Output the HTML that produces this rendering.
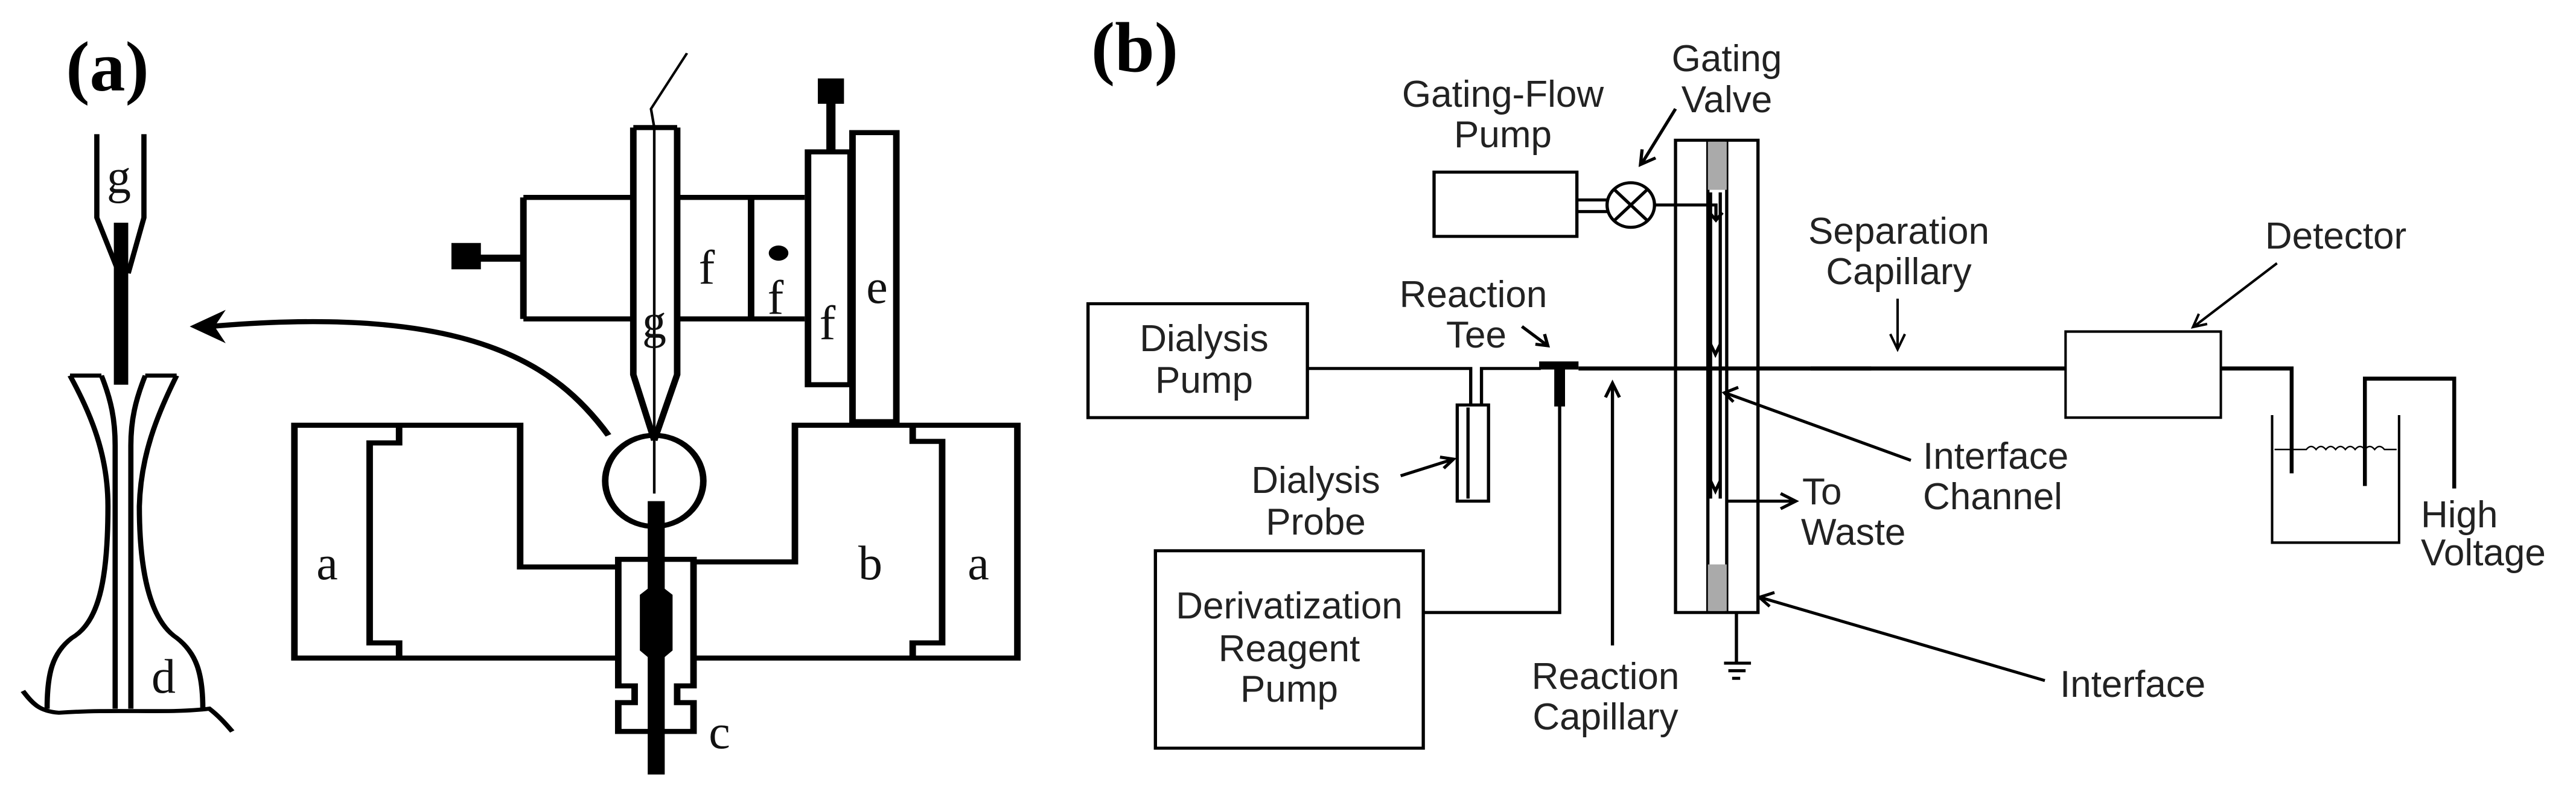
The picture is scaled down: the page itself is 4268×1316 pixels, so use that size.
<!DOCTYPE html>
<html><head><meta charset="utf-8"><style>
html,body{margin:0;padding:0;background:#fff;}
svg{display:block;}
.s{fill:none;stroke:#000;vector-effect:non-scaling-stroke;stroke-linejoin:miter;}
.ser{font-family:"Liberation Serif",serif;font-size:80px;fill:#111;text-anchor:middle;}
.sans{font-family:"Liberation Sans",sans-serif;font-size:62px;fill:#222;}
</style></head><body>
<svg width="4268" height="1316" viewBox="0 0 4268 1316" xmlns="http://www.w3.org/2000/svg">
<rect width="4268" height="1316" fill="#fff"/>

<!-- PANEL A -->
<g transform="scale(1.084,0.839)">
 <g class="s" style="stroke-width:8">
  <path d="M148,265 V430 L182,540 M220,265 V430 L196,540"/>
  <path d="M107,742 H155 M222,742 H270"/>
  <path d="M107,742 C140,820 165,900 165,1000 C165,1150 150,1230 110,1260 C80,1290 72,1330 72,1400"/>
  <path d="M155,742 C170,790 176,830 176,880 V1400"/>
  <path d="M270,742 C240,820 215,900 213,1000 C213,1150 235,1230 270,1260 C300,1290 310,1330 310,1400"/>
  <path d="M222,742 C207,790 200,830 200,880 V1400"/>
  <path d="M35,1365 C50,1390 60,1405 90,1408 C180,1400 260,1410 320,1400 C335,1415 345,1430 355,1445"/>
 </g>
 <rect x="174" y="440" width="22" height="320" fill="#000"/>

 <g class="s" style="stroke-width:10">
  <path d="M945,1120 H795 V840 H450 V1300 H945"/>
  <path d="M1060,1110 H1215 V840 H1555 V1300 H1060"/>
  <path d="M610,845 V875 H565 V1270 H610 V1298"/>
  <path d="M1395,845 V872 H1440 V1270 H1395 V1298"/>
  <path d="M945,1105 H1060 V1355 H1035 V1388 H1060 V1445 H945 V1388 H970 V1355 H945 Z"/>
  <ellipse cx="1000" cy="950" rx="75" ry="90"/>
  <path d="M968,252 H1035 M968,252 V740 L1000,870 M1035,252 V740 L1000,870"/>
  <path d="M800,390 H968 M1035,390 H1230 M800,630 H968 M1035,630 H1230 M800,390 V630 M1148,390 V630"/>
  <rect x="1235" y="300" width="65" height="460"/>
  <rect x="1303" y="262" width="67" height="573"/>
  <path d="M930,860 C850,720 720,600 320,645"/>
 </g>
 <g class="s" style="stroke-width:4">
  <path d="M1000,252 V975 M1000,252 L995,215 L1050,105"/>
 </g>
 <path d="M290,645 L345,612 L328,645 L345,678 Z" fill="#000"/>
 <rect x="990" y="990" width="26" height="540" fill="#000"/>
 <path d="M1003,1150 L1028,1175 V1285 L1003,1312 L978,1285 V1175 Z" fill="#000"/>
 <rect x="1303" y="828" width="67" height="10" fill="#000"/>
 <circle cx="1190" cy="500" r="15" fill="#000"/>
 <rect x="730" y="503" width="70" height="14" fill="#000"/>
 <rect x="690" y="480" width="45" height="52" fill="#000"/>
 <rect x="1263" y="200" width="14" height="100" fill="#000"/>
 <rect x="1250" y="155" width="40" height="50" fill="#000"/>
</g>
<text x="178" y="150" style="font-family:'Liberation Serif',serif;font-weight:bold;font-size:118px;text-anchor:middle;fill:#000">(a)</text>
<g class="ser">
 <text x="197" y="320">g</text>
 <text x="542" y="960">a</text>
 <text x="1442" y="960">b</text>
 <text x="1621" y="960">a</text>
 <text x="1192" y="1240">c</text>
 <text x="271" y="1148">d</text>
 <text x="1171" y="470">f</text>
 <text x="1285" y="520">f</text>
 <text x="1371" y="562">f</text>
 <text x="1453" y="502">e</text>
 <text x="1084" y="560">g</text>
</g>

<!-- PANEL B (left part) -->
<g transform="translate(1700,0) scale(0.893,0.839)">
 <g class="s" style="stroke-width:6">
  <rect x="757" y="340" width="265" height="127"/>
  <path d="M1022,395 H1080 M1022,418 H1080"/>
  <circle cx="1122" cy="405" r="44"/>
  <path d="M1091,374 L1153,436 M1153,374 L1091,436"/>
  <path d="M1168,405 H1280 V432 M1268,420 L1280,435 L1292,420"/>
  <path d="M1205,215 L1143,322 M1143,295 L1140,325 L1168,312"/>
  <rect x="1205" y="277" width="153" height="933"/>
  <path d="M1265,277 V1210 M1300,277 V1210"/>
  <path d="M1270,380 V985 M1288,380 V985"/>
  <path d="M1270,680 L1279,700 L1288,680 M1270,950 L1279,970 L1288,950"/>
  <path d="M1318,1210 V1310 M1295,1310 H1345 M1303,1325 H1335 M1310,1340 H1325"/>
  <rect x="115" y="600" width="407" height="225"/>
  <rect x="240" y="1088" width="497" height="390"/>
  <path d="M522,728 H825 V800"/>
  <rect x="800" y="800" width="58" height="190"/>
  <path d="M820,805 V985 M845,800 V728 H955"/>
  <path d="M990,800 V1210 H737"/>
  <path d="M920,645 L968,683 M945,680 L968,683 L962,660"/>
  <path d="M695,940 L793,907 M768,903 L793,907 L775,925"/>
  <path d="M1088,1275 V760 M1075,785 L1088,757 L1101,785"/>
  <path d="M1300,990 H1425 M1400,975 L1428,990 L1400,1005"/>
 </g>
 <rect x="1265" y="280" width="35" height="95" fill="#aaa"/>
 <rect x="1265" y="1115" width="35" height="92" fill="#aaa"/>
 <g class="s" style="stroke-width:8">
  <path d="M1025,728 H1568"/>
 </g>
 <rect x="952" y="714" width="73" height="16" fill="#000"/>
 <rect x="980" y="728" width="20" height="75" fill="#000"/>
</g>

<!-- leader lines in original coords -->
<g class="s" style="stroke-width:5">
 <path d="M3166,763 L2858,651 M2880,642 L2857,651 L2872,666"/>
 <path d="M3388,1128 L2916,990 M2940,982 L2915,990 L2932,1005"/>
</g>

<!-- PANEL B (right part) -->
<g transform="translate(3000,0) scale(0.809,0.839)">
 <g class="s" style="stroke-width:8">
  <path d="M0,728 H522"/>
  <path d="M840,728 H985 V935"/>
  <path d="M1135,960 V748 H1318 V965"/>
 </g>
 <g class="s" style="stroke-width:5">
  <rect x="522" y="655" width="318" height="170"/>
  <path d="M178,590 V688 M163,660 L178,690 L193,660"/>
  <path d="M955,520 L785,645 M795,620 L783,646 L812,640"/>
  <path d="M945,820 V1072 H1205 V820"/>
 </g>
 <g class="s" style="stroke-width:3">
  <path d="M950,888 H1015 q10,-12 20,0 q10,-12 20,0 q10,-12 20,0 q10,-12 20,0 q10,-12 20,0 q10,-12 20,0 q10,-12 20,0 q10,-12 20,0 H1200"/>
 </g>
</g>

<text x="1880" y="118" style="font-family:'Liberation Serif',serif;font-weight:bold;font-size:118px;text-anchor:middle;fill:#000">(b)</text>
<g class="sans">
 <text x="2490" y="177" text-anchor="middle">Gating-Flow</text>
 <text x="2490" y="244" text-anchor="middle">Pump</text>
 <text x="2861" y="118" text-anchor="middle">Gating</text>
 <text x="2861" y="186" text-anchor="middle">Valve</text>
 <text x="1995" y="582" text-anchor="middle">Dialysis</text>
 <text x="1995" y="651" text-anchor="middle">Pump</text>
 <text x="2136" y="1025" text-anchor="middle">Derivatization</text>
 <text x="2136" y="1096" text-anchor="middle">Reagent</text>
 <text x="2136" y="1163" text-anchor="middle">Pump</text>
 <text x="2441" y="509" text-anchor="middle">Reaction</text>
 <text x="2446" y="576" text-anchor="middle">Tee</text>
 <text x="2180" y="817" text-anchor="middle">Dialysis</text>
 <text x="2180" y="886" text-anchor="middle">Probe</text>
 <text x="2660" y="1142" text-anchor="middle">Reaction</text>
 <text x="2660" y="1209" text-anchor="middle">Capillary</text>
 <text x="2986" y="836">To</text>
 <text x="2984" y="903">Waste</text>
 <text x="3186" y="777">Interface</text>
 <text x="3186" y="844">Channel</text>
 <text x="3413" y="1155">Interface</text>
 <text x="3146" y="404" text-anchor="middle">Separation</text>
 <text x="3146" y="471" text-anchor="middle">Capillary</text>
 <text x="3870" y="412" text-anchor="middle">Detector</text>
 <text x="4011" y="874">High</text>
 <text x="4011" y="937">Voltage</text>
</g>
</svg>
</body></html>
